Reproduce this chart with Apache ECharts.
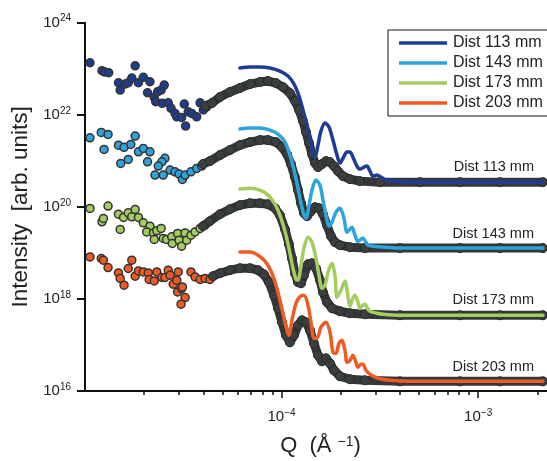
<!DOCTYPE html>
<html>
<head>
<meta charset="utf-8">
<script src="https://cdn.jsdelivr.net/npm/echarts@6/dist/echarts.min.js"></script>
<style>
html,body{margin:0;padding:0;background:#fff;}
#chart{width:547px;height:461px;}
</style>
</head>
<body>
<div id="chart"></div>
<script>
// ---- Data (Q in Å^-1, intensity in arb. units) ----
const seriesNames = ['Dist 113 mm', 'Dist 143 mm', 'Dist 173 mm', 'Dist 203 mm'];

// sparse low-Q measured points
const pts113 = [[1.06e-5,1.35e23],[1.22e-5,9.05e22],[1.26e-5,8.48e22],[1.32e-5,8.18e22],[1.80e-5,1.16e23],[1.48e-5,4.96e22],[1.51e-5,3.44e22],[1.60e-5,4.65e22],[1.66e-5,4.96e22],[1.73e-5,6.28e22],[1.87e-5,4.96e22],[1.98e-5,6.50e22],[2.14e-5,5.22e22],[2.08e-5,3.01e22],[2.25e-5,2.39e22],[2.34e-5,3.16e22],[2.44e-5,3.44e22],[2.53e-5,4.42e22],[2.29e-5,1.92e22],[2.47e-5,1.77e22],[2.65e-5,1.82e22],[2.74e-5,1.38e22],[2.87e-5,1.07e22],[2.93e-5,9.05e21],[3.10e-5,8.78e21],[3.20e-5,1.71e22],[3.25e-5,5.68e21],[3.35e-5,1.16e22],[3.49e-5,1.07e22],[3.70e-5,9.05e21],[3.85e-5,1.82e22],[4.00e-5,1.27e22],[4.16e-5,1.49e22]];
const pts143 = [[1.06e-5,3.16e21],[1.21e-5,4.14e21],[1.25e-5,1.77e21],[1.31e-5,3.75e21],[1.48e-5,2.19e21],[1.58e-5,1.96e21],[1.71e-5,2.27e21],[1.80e-5,3.44e21],[1.52e-5,8.78e20],[1.66e-5,1.07e21],[1.87e-5,1.57e21],[1.98e-5,1.86e21],[2.14e-5,1.57e21],[2.08e-5,9.51e20],[2.55e-5,1.13e21],[2.46e-5,9.51e20],[2.36e-5,7.67e20],[2.27e-5,4.89e20],[2.50e-5,4.89e20],[2.71e-5,6.28e20],[2.87e-5,5.77e20],[3.01e-5,5.14e20],[3.13e-5,3.94e20],[3.23e-5,4.89e20],[3.46e-5,5.77e20],[3.70e-5,6.84e20],[3.92e-5,7.67e20]];
const pts173 = [[1.06e-5,9.23e19],[1.22e-5,4.72e19],[1.24e-5,5.60e19],[1.31e-5,1.04e20],[1.48e-5,6.94e19],[1.51e-5,3.23e19],[1.57e-5,5.88e19],[1.66e-5,7.41e19],[1.73e-5,6.06e19],[1.80e-5,8.78e19],[1.87e-5,5.88e19],[1.98e-5,4.49e19],[2.14e-5,3.81e19],[2.06e-5,2.86e19],[2.23e-5,2.72e19],[2.32e-5,3.01e19],[2.44e-5,3.39e19],[2.25e-5,1.96e19],[2.50e-5,2.06e19],[2.60e-5,1.96e19],[2.76e-5,2.23e19],[2.78e-5,1.60e19],[2.96e-5,2.64e19],[3.01e-5,1.89e19],[3.10e-5,1.40e19],[3.23e-5,2.72e19],[3.29e-5,1.89e19],[3.46e-5,2.43e19],[3.63e-5,2.86e19],[3.85e-5,3.39e19],[4.08e-5,4.00e19]];
const pts203 = [[1.06e-5,8.18e18],[1.21e-5,7.55e18],[1.24e-5,6.94e18],[1.31e-5,4.81e18],[1.48e-5,3.67e18],[1.51e-5,2.78e18],[1.58e-5,1.99e18],[1.66e-5,4.58e18],[1.73e-5,6.94e18],[1.80e-5,3.12e18],[1.87e-5,4.06e18],[1.98e-5,3.86e18],[2.10e-5,3.67e18],[2.12e-5,2.64e18],[2.25e-5,2.46e18],[2.32e-5,3.86e18],[2.46e-5,2.92e18],[2.55e-5,2.92e18],[2.65e-5,4.21e18],[2.71e-5,3.27e18],[2.81e-5,2.09e18],[2.93e-5,2.55e18],[2.98e-5,3.86e18],[2.96e-5,1.42e18],[3.10e-5,1.68e18],[3.13e-5,1.82e18],[3.23e-5,1.07e18],[3.08e-5,7.67e17],[3.46e-5,3.86e18],[3.63e-5,3.01e18],[3.85e-5,2.64e18],[4.08e-5,2.78e18],[4.32e-5,2.64e18]];

// dense measured points (higher Q)
const band113 = [[4.08e-5,1.55e22],[4.43e-5,1.80e22],[4.86e-5,2.43e22],[5.46e-5,3.12e22],[6.14e-5,3.81e22],[6.91e-5,4.65e22],[7.76e-5,5.14e22],[8.53e-5,5.40e22],[9.37e-5,4.89e22],[1.017e-4,4.00e22],[1.103e-4,2.96e22],[1.170e-4,1.99e22],[1.227e-4,1.27e22],[1.285e-4,7.30e21],[1.331e-4,4.21e21],[1.379e-4,2.43e21],[1.428e-4,1.40e21],[1.479e-4,8.91e20],[1.532e-4,7.30e20],[1.605e-4,8.48e20],[1.682e-4,9.85e20],[1.763e-4,9.37e20],[1.847e-4,7.67e20],[1.936e-4,5.97e20],[2.053e-4,4.65e20],[2.228e-4,4.00e20],[2.505e-4,3.62e20],[3.166e-4,3.44e20],[5.058e-4,3.44e20],[8.08e-4,3.44e20],[1.291e-3,3.44e20],[2.136e-3,3.44e20]];
const band143 = [[3.98e-5,8.48e20],[4.32e-5,9.85e20],[4.86e-5,1.33e21],[5.46e-5,1.71e21],[6.14e-5,2.19e21],[6.91e-5,2.55e21],[7.76e-5,2.82e21],[8.53e-5,2.82e21],[9.37e-5,2.55e21],[1.005e-4,1.99e21],[1.065e-4,1.40e21],[1.116e-4,8.48e20],[1.170e-4,4.42e20],[1.212e-4,2.31e20],[1.256e-4,1.20e20],[1.300e-4,7.30e19],[1.347e-4,6.28e19],[1.411e-4,8.06e19],[1.479e-4,9.85e19],[1.550e-4,9.37e19],[1.624e-4,6.94e19],[1.702e-4,4.00e19],[1.784e-4,2.31e19],[1.869e-4,1.71e19],[1.982e-4,1.47e19],[2.228e-4,1.33e19],[2.656e-4,1.27e19],[4.002e-4,1.27e19],[8.08e-4,1.27e19],[1.291e-3,1.27e19],[2.136e-3,1.27e19]];
const band173 = [[3.98e-5,3.81e19],[4.32e-5,4.89e19],[4.86e-5,6.94e19],[5.46e-5,8.91e19],[6.14e-5,1.09e20],[6.91e-5,1.20e20],[7.76e-5,1.20e20],[8.53e-5,1.14e20],[9.26e-5,9.37e19],[9.81e-5,6.60e19],[1.041e-4,3.27e19],[1.090e-4,1.55e19],[1.129e-4,7.67e18],[1.170e-4,3.62e18],[1.212e-4,2.31e18],[1.256e-4,2.19e18],[1.300e-4,3.27e18],[1.363e-4,5.68e18],[1.428e-4,5.97e18],[1.496e-4,4.65e18],[1.568e-4,2.55e18],[1.624e-4,1.40e18],[1.702e-4,8.48e17],[1.805e-4,6.28e17],[1.982e-4,5.40e17],[2.228e-4,4.89e17],[2.656e-4,4.65e17],[4.002e-4,4.42e17],[8.08e-4,4.42e17],[1.291e-3,4.42e17],[2.136e-3,4.42e17]];
const band203 = [[4.48e-5,3.12e18],[4.86e-5,3.62e18],[5.46e-5,4.21e18],[6.14e-5,4.65e18],[6.91e-5,4.65e18],[7.59e-5,4.21e18],[8.14e-5,3.39e18],[8.63e-5,2.31e18],[9.15e-5,1.20e18],[9.59e-5,6.28e17],[1.005e-4,3.12e17],[1.053e-4,1.62e17],[1.103e-4,1.14e17],[1.157e-4,1.62e17],[1.212e-4,2.68e17],[1.270e-4,3.44e17],[1.331e-4,3.12e17],[1.395e-4,2.09e17],[1.462e-4,1.09e17],[1.532e-4,5.97e16],[1.605e-4,4.42e16],[1.682e-4,5.14e16],[1.763e-4,4.00e16],[1.847e-4,2.82e16],[1.982e-4,2.09e16],[2.228e-4,1.80e16],[2.656e-4,1.71e16],[4.002e-4,1.62e16],[8.08e-4,1.62e16],[1.291e-3,1.62e16],[2.136e-3,1.62e16]];

// model curves (solid lines)
const fit113 = [[6.14e-5,1.04e23],[6.91e-5,1.09e23],[7.76e-5,1.09e23],[8.73e-5,1.04e23],[9.81e-5,8.91e22],[1.078e-4,6.94e22],[1.157e-4,4.65e22],[1.227e-4,2.55e22],[1.285e-4,1.27e22],[1.347e-4,5.97e21],[1.395e-4,2.82e21],[1.444e-4,1.55e21],[1.479e-4,1.20e21],[1.532e-4,2.19e21],[1.586e-4,4.42e21],[1.663e-4,6.60e21],[1.742e-4,5.40e21],[1.826e-4,2.82e21],[1.913e-4,1.33e21],[1.982e-4,8.91e20],[2.053e-4,1.14e21],[2.151e-4,1.55e21],[2.228e-4,1.55e21],[2.307e-4,1.20e21],[2.418e-4,7.67e20],[2.505e-4,6.60e20],[2.625e-4,7.30e20],[2.719e-4,7.67e20],[2.817e-4,5.97e20],[2.92e-4,4.65e20],[3.057e-4,4.89e20],[3.204e-4,4.42e20],[3.396e-4,3.81e20],[3.774e-4,3.62e20],[5.058e-4,3.44e20],[2.136e-3,3.44e20]];
const fit143 = [[6.14e-5,4.89e21],[6.91e-5,5.14e21],[7.76e-5,5.14e21],[8.73e-5,4.65e21],[9.59e-5,3.81e21],[1.041e-4,2.55e21],[1.103e-4,1.33e21],[1.157e-4,6.28e20],[1.212e-4,2.55e20],[1.256e-4,1.20e20],[1.300e-4,6.60e19],[1.331e-4,5.68e19],[1.379e-4,1.09e20],[1.428e-4,2.31e20],[1.496e-4,3.81e20],[1.568e-4,2.96e20],[1.624e-4,1.40e20],[1.682e-4,6.60e19],[1.742e-4,3.81e19],[1.805e-4,4.65e19],[1.891e-4,7.67e19],[1.982e-4,9.37e19],[2.077e-4,5.68e19],[2.151e-4,2.82e19],[2.228e-4,3.27e19],[2.281e-4,3.62e19],[2.361e-4,2.43e19],[2.446e-4,1.77e19],[2.534e-4,1.96e19],[2.594e-4,2.09e19],[2.687e-4,1.71e19],[2.751e-4,1.47e19],[2.986e-4,1.38e19],[3.357e-4,1.33e19],[4.002e-4,1.27e19],[2.136e-3,1.27e19]];
const fit173 = [[6.14e-5,2.43e20],[6.91e-5,2.55e20],[7.76e-5,2.31e20],[8.53e-5,1.80e20],[9.26e-5,1.14e20],[9.93e-5,5.68e19],[1.053e-4,2.43e19],[1.103e-4,9.85e18],[1.143e-4,4.65e18],[1.184e-4,2.68e18],[1.212e-4,2.55e18],[1.256e-4,5.40e18],[1.300e-4,1.27e19],[1.363e-4,2.19e19],[1.428e-4,1.71e19],[1.496e-4,7.67e18],[1.550e-4,3.27e18],[1.605e-4,1.71e18],[1.663e-4,1.99e18],[1.722e-4,3.81e18],[1.805e-4,5.97e18],[1.869e-4,3.27e18],[1.913e-4,1.09e18],[2.005e-4,1.55e18],[2.101e-4,2.43e18],[2.176e-4,1.13e18],[2.228e-4,6.94e17],[2.307e-4,1.04e18],[2.361e-4,1.20e18],[2.446e-4,8.48e17],[2.505e-4,6.28e17],[2.594e-4,7.30e17],[2.656e-4,7.67e17],[2.751e-4,5.97e17],[2.817e-4,5.40e17],[3.057e-4,4.89e17],[3.280e-4,4.65e17],[4.002e-4,4.42e17],[2.136e-3,4.42e17]];
const fit203 = [[6.14e-5,1.04e19],[6.91e-5,1.04e19],[7.59e-5,8.91e18],[8.23e-5,6.60e18],[8.84e-5,4.00e18],[9.37e-5,1.99e18],[9.81e-5,9.37e17],[1.029e-4,3.81e17],[1.065e-4,2.09e17],[1.090e-4,1.62e17],[1.129e-4,3.44e17],[1.184e-4,8.06e17],[1.241e-4,1.13e18],[1.300e-4,1.20e18],[1.363e-4,7.30e17],[1.411e-4,3.12e17],[1.462e-4,1.40e17],[1.514e-4,1.40e17],[1.586e-4,2.43e17],[1.682e-4,3.12e17],[1.763e-4,1.89e17],[1.826e-4,6.94e16],[1.891e-4,6.60e16],[1.959e-4,1.09e17],[2.029e-4,1.27e17],[2.101e-4,7.67e16],[2.151e-4,4.21e16],[2.228e-4,4.65e16],[2.307e-4,5.97e16],[2.389e-4,4.21e16],[2.446e-4,3.27e16],[2.534e-4,3.81e16],[2.594e-4,3.81e16],[2.687e-4,2.82e16],[2.817e-4,2.31e16],[3.093e-4,1.89e16],[3.559e-4,1.71e16],[4.499e-4,1.62e16],[2.136e-3,1.62e16]];

// axis ranges and tick values
const qMin = 1e-5, qMax = 2.24e-3;
const iMin = 1e16, iMax = 1e24;
const minorQTicks = [2e-5,3e-5,4e-5,5e-5,6e-5,7e-5,8e-5,9e-5,2e-4,3e-4,4e-4,5e-4,6e-4,7e-4,8e-4,9e-4,2e-3];
const curveLabels = ['Dist 113 mm', 'Dist 143 mm', 'Dist 173 mm', 'Dist 203 mm'];

// ---- Chart ----
const colors = ['#1d3d92', '#2ea3dc', '#a3cd5e', '#f05a25'];
const FONT = '"Liberation Sans", Arial, Helvetica, sans-serif';
const TXT = '#222';
const pts = [pts113, pts143, pts173, pts203];
const bands = [band113, band143, band173, band203];
const fits = [fit113, fit143, fit173, fit203];

function expLabel(v) {
  const e = Math.round(Math.log10(v));
  const s = e < 0 ? '\u2212' + (-e) : String(e);
  return '{b|10}{s|' + s + '}';
}
const labelRich = {
  b: { fontSize: 15, fontFamily: FONT, color: TXT, lineHeight: 18 },
  s: { fontSize: 10, fontFamily: FONT, color: TXT, lineHeight: 10, verticalAlign: 'top' }
};

const series = [];
for (let k = 0; k < 4; k++) {
  series.push({
    name: 'pts' + k, type: 'scatter', data: pts[k], symbol: 'circle', symbolSize: 8,
    itemStyle: { color: colors[k], borderColor: '#333', borderWidth: 1.5, opacity: 1 },
    z: 2, silent: true
  });
  series.push({
    name: 'band' + k, type: 'line', data: bands[k], symbol: 'circle', symbolSize: 9,
    showSymbol: true, showAllSymbol: true,
    lineStyle: { color: '#353838', width: 9, cap: 'round', join: 'round' },
    itemStyle: { color: '#3b3e3e', borderColor: '#2a2c2c', borderWidth: 1 },
    z: 3, silent: true
  });
  series.push({
    name: seriesNames[k], type: 'line', data: fits[k], symbol: 'none', showSymbol: false,
    smooth: 0.3,
    lineStyle: { color: colors[k], width: 3.5, cap: 'round', join: 'round' },
    itemStyle: { color: colors[k] },
    z: 4, silent: true
  });
}

const chart = echarts.init(document.getElementById('chart'), null, { renderer: 'canvas' });
chart.setOption({
  animation: false,
  backgroundColor: '#fff',
  textStyle: { fontFamily: FONT },
  grid: { left: 85, right: 0, top: 22.7, bottom: 70, containLabel: false, outerBoundsMode: 'none' },
  legend: {
    data: seriesNames,
    orient: 'vertical',
    left: 388, top: 30,
    padding: [3, 40, 3, 11],
    itemGap: 0,
    itemWidth: 48, itemHeight: 3.5,
    icon: 'rect',
    borderColor: '#111', borderWidth: 1, borderRadius: 0,
    backgroundColor: '#fff',
    selectedMode: false,
    textStyle: { fontSize: 16, color: TXT, fontFamily: FONT, lineHeight: 20, padding: [0, 0, 0, 1] }
  },
  xAxis: [{
    type: 'log', min: qMin, max: qMax, interval: 1,
    name: 'Q  (\u00c5 {s|\u22121})', nameLocation: 'middle', nameGap: 44,
    nameTextStyle: { fontSize: 22, color: TXT, fontFamily: FONT, padding: [0, 0, 0, 9],
      rich: { s: { fontSize: 14, fontFamily: FONT, color: TXT, verticalAlign: 'top' } } },
    axisLine: { show: true, lineStyle: { color: '#111', width: 2 } },
    axisTick: { show: true, inside: false, length: 7, lineStyle: { color: '#111', width: 1.5 } },
    axisLabel: { formatter: expLabel, rich: labelRich, margin: 17, showMinLabel: false, showMaxLabel: false, hideOverlap: false },
    splitLine: { show: false }, minorTick: { show: false }
  }, {
    type: 'value', min: Math.log10(qMin), max: Math.log10(qMax), position: 'bottom', offset: 0,
    axisLine: { show: false },
    axisTick: { show: true, inside: false, length: 4, customValues: minorQTicks.map(v => Math.log10(v)),
      lineStyle: { color: '#111', width: 1.5 } },
    axisLabel: { show: false },
    splitLine: { show: false }
  }],
  yAxis: {
    type: 'log', min: iMin, max: iMax, interval: 2,
    name: 'Intensity  [arb. units]', nameLocation: 'middle', nameGap: 52,
    nameTextStyle: { fontSize: 22.5, color: TXT, fontFamily: FONT },
    axisLine: { show: true, lineStyle: { color: '#111', width: 2 } },
    axisTick: { show: true, inside: false, length: 8, lineStyle: { color: '#111', width: 2 } },
    axisLabel: { formatter: expLabel, rich: labelRich, margin: 14 },
    splitLine: { show: false }, minorTick: { show: false }
  },
  graphic: curveLabels.map((t, k) => ({
    type: 'text', x: 534, y: [167, 233.5, 300, 366.5][k], z: 10, silent: true,
    style: { text: t, fill: TXT, font: '14.5px ' + FONT, align: 'right', verticalAlign: 'middle' }
  })),
  series: series
});
</script>
</body>
</html>
